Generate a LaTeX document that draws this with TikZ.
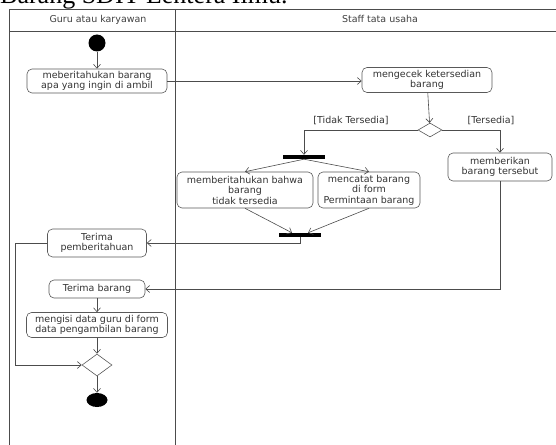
\documentclass[tikz,border=0pt]{standalone}
\usepackage{fontspec}
\setmainfont{DejaVu Sans}
\newfontfamily\titlefont{Liberation Serif}
\usetikzlibrary{arrows.meta,shapes.geometric}

\begin{document}
\begin{tikzpicture}[x=1pt,y=-1pt,
  act/.style={draw=black!65, rounded corners=5pt, line width=0.6pt, align=center,
    font=\fontsize{9.5}{10.5}\selectfont, text=black!80, inner sep=1pt},
  flow/.style={draw=black!70, line width=0.6pt, -{Straight Barb[length=4pt,width=7pt]}},
  bar/.style={fill=black, draw=none, minimum width=42pt, minimum height=4pt, inner sep=0pt},
  choice/.style={diamond, draw=black!65, line width=0.6pt, inner sep=0pt},
  lane/.style={draw=black!70, line width=0.9pt},
  lanetitle/.style={font=\fontsize{9.5}{10}\selectfont, text=black!75},
  guard/.style={font=\fontsize{9.5}{10}\selectfont, text=black!80}
]
\useasboundingbox (0,0) rectangle (556,444);

% heading line of the page, mostly above the frame
\node[anchor=base west, inner sep=0pt, font=\titlefont\fontsize{26}{26}\selectfont] (pagetitle) at (0,4) {Barang SDIT Lentera Ilmu.};

% swimlanes
\draw[lane] (9,460) -- (9,9) -- (560,9);
\draw[lane] (9,31) -- (560,31);
\draw[lane] (175,9) -- (175,460);
\node[lanetitle] (laneguru) at (98,20) {Guru atau karyawan};
\node[lanetitle] (lanestaff) at (380,19) {Staff tata usaha};

% activities
\node[circle, fill=black, minimum width=17pt, minimum height=15pt, inner sep=0pt] (start) at (97,43) {};
\node[act, minimum width=140pt, minimum height=24pt] (tell) at (97,81) {meberitahukan barang\\apa yang ingin di ambil};
\node[act, minimum width=130pt, minimum height=25pt] (check) at (427,80) {mengecek ketersedian\\barang};
\node[choice, minimum width=24pt, minimum height=14pt] (dec) at (430,130) {};
\node[act, minimum width=104pt, minimum height=28pt] (give) at (500,167) {memberikan\\barang tersebut};
\node[bar] (fork) at (304,157) {};
\node[act, minimum width=136pt, minimum height=36pt] (notav) at (245,190) {memberitahukan bahwa\\barang\\tidak tersedia};
\node[act, minimum width=102pt, minimum height=36pt] (record) at (369,190) {mencatat barang\\di form\\Permintaan barang};
\node[bar] (join) at (300,235) {};
\node[act, minimum width=99pt, minimum height=28pt] (recvnote) at (97,243) {Terima\\pemberitahuan};
\node[act, minimum width=96pt, minimum height=18pt] (recvgood) at (97,289) {Terima barang};
\node[act, minimum width=141pt, minimum height=25pt] (fillform) at (97,325) {mengisi data guru di form\\data pengambilan barang};
\node[choice, minimum width=30pt, minimum height=22pt] (merge) at (97,365) {};
\node[ellipse, fill=black, minimum width=21pt, minimum height=14pt, inner sep=0pt] (stop) at (97,400) {};

% guards
\node[guard] (gno) at (351,121) {[Tidak Tersedia]};
\node[guard] (gyes) at (491,121) {[Tersedia]};

% control flow
\draw[flow] (start) -- (tell);
\draw[flow] (tell.east) -- (tell.east -| check.west);
\draw[flow] (check) -- (dec);
\draw[flow] (dec.west) -| (fork.north);
\draw[flow] (dec.east) -| (give.north);
\draw[flow] (fork.south) -- (notav.north);
\draw[flow] (fork.south) -- (record.north);
\draw[flow] (notav.south) -- ([xshift=-8pt]join.north);
\draw[flow] (record.south) -- ([xshift=8pt]join.north);
\draw[flow] (join.south) |- (recvnote.east);
\draw[flow] (give.south) |- (recvgood.east);
\draw[flow] (recvgood) -- (fillform);
\draw[flow] (fillform) -- (merge);
\draw[flow] (recvnote.west) -- ++(-31.5,0) |- (merge.west);
\draw[flow] (merge) -- (stop);
\end{tikzpicture}
\end{document}
